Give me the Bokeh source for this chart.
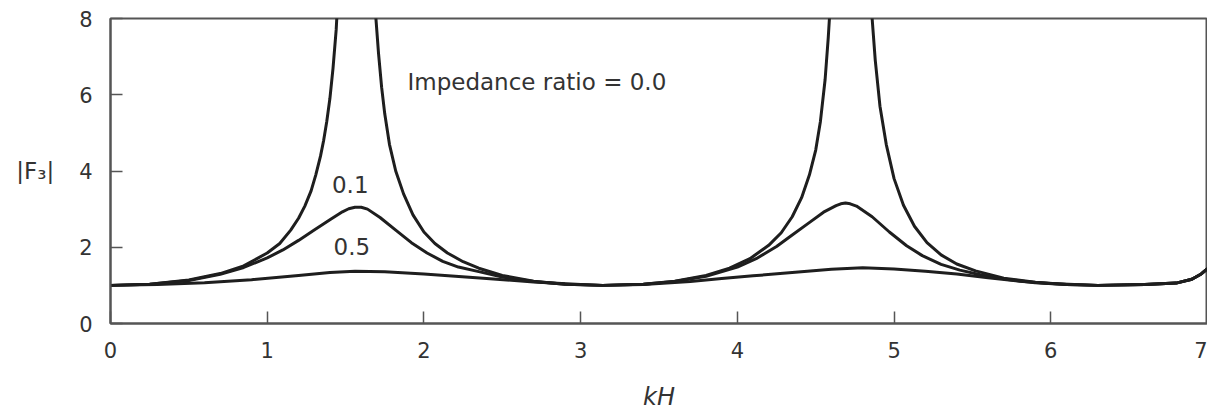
from bokeh.plotting import figure
from bokeh.models import Range1d, FixedTicker, Label
from bokeh.embed import file_html
from bokeh.resources import INLINE

# ---- data ----
x_ticks = [0, 1, 2, 3, 4, 5, 6, 7]
y_ticks = [0, 2, 4, 6, 8]

# impedance ratio = 0.0
kh_00 = [0.00, 0.25, 0.50, 0.70, 0.85, 1.00, 1.08, 1.15, 1.20, 1.24, 1.28, 1.31, 1.34,
         1.36, 1.38, 1.40, 1.42, 1.44, 1.47, 1.50, 1.64, 1.67, 1.69, 1.71, 1.73, 1.75,
         1.78, 1.82, 1.87, 1.93, 2.00, 2.07, 2.15, 2.25, 2.35, 2.50, 2.70, 2.90, 3.14,
         3.40, 3.60, 3.80, 3.95, 4.08, 4.20, 4.28, 4.35, 4.41, 4.46, 4.50, 4.53, 4.56,
         4.58, 4.61, 4.64, 4.80, 4.84, 4.86, 4.88, 4.91, 4.95, 5.00, 5.06, 5.13, 5.21,
         5.30, 5.40, 5.52, 5.70, 5.90, 6.10, 6.30, 6.60, 6.80, 6.90, 6.96, 7.00]
f_00 = [1.00, 1.03, 1.14, 1.31, 1.51, 1.85, 2.10, 2.45, 2.76, 3.08, 3.48, 3.90, 4.39,
        4.80, 5.30, 5.90, 6.70, 7.70, 10.0, 14.0, 14.0, 10.0, 8.20, 7.10, 6.20, 5.50,
        4.70, 4.00, 3.40, 2.85, 2.40, 2.10, 1.85, 1.62, 1.45, 1.26, 1.11, 1.03, 1.00,
        1.03, 1.11, 1.26, 1.45, 1.70, 2.05, 2.38, 2.80, 3.30, 3.90, 4.55, 5.30, 6.40,
        7.50, 9.50, 14.0, 14.0, 9.50, 8.00, 6.90, 5.70, 4.70, 3.80, 3.10, 2.55, 2.12,
        1.80, 1.56, 1.38, 1.19, 1.08, 1.02, 1.00, 1.02, 1.06, 1.16, 1.30, 1.44]

# impedance ratio = 0.1
kh_01 = [0.00, 0.25, 0.50, 0.70, 0.85, 1.00, 1.10, 1.20, 1.30, 1.40, 1.48, 1.52, 1.56,
         1.60, 1.64, 1.72, 1.82, 1.92, 2.02, 2.12, 2.22, 2.35, 2.50, 2.70, 2.90, 3.14,
         3.40, 3.60, 3.80, 4.00, 4.12, 4.25, 4.35, 4.45, 4.55, 4.63, 4.66, 4.69, 4.72,
         4.76, 4.86, 4.97, 5.08, 5.18, 5.30, 5.42, 5.55, 5.70, 5.90, 6.10, 6.30, 6.60,
         6.80, 6.90, 6.96, 7.00]
f_01 = [1.00, 1.03, 1.13, 1.29, 1.47, 1.72, 1.93, 2.18, 2.45, 2.72, 2.93, 3.01, 3.05,
        3.05, 3.00, 2.78, 2.45, 2.12, 1.85, 1.63, 1.48, 1.36, 1.22, 1.10, 1.03, 1.00,
        1.03, 1.10, 1.24, 1.48, 1.70, 2.02, 2.32, 2.62, 2.92, 3.09, 3.14, 3.16, 3.14,
        3.08, 2.80, 2.40, 2.04, 1.78, 1.55, 1.40, 1.28, 1.17, 1.07, 1.02, 1.00, 1.02,
        1.06, 1.16, 1.30, 1.44]

# impedance ratio = 0.5
kh_05 = [0.00, 0.30, 0.60, 0.90, 1.20, 1.40, 1.56, 1.75, 2.00, 2.20, 2.40, 2.70, 3.00,
         3.14, 3.40, 3.70, 3.90, 4.10, 4.35, 4.60, 4.80, 5.00, 5.20, 5.40, 5.60, 5.80,
         6.00, 6.30, 6.60, 6.80, 6.90, 6.96, 7.00]
f_05 = [1.00, 1.02, 1.07, 1.15, 1.26, 1.34, 1.37, 1.36, 1.30, 1.24, 1.18, 1.09, 1.02,
        1.00, 1.02, 1.10, 1.18, 1.25, 1.34, 1.42, 1.46, 1.43, 1.37, 1.30, 1.20, 1.11,
        1.05, 1.00, 1.02, 1.06, 1.16, 1.30, 1.44]

curve_labels = ["Impedance ratio = 0.0", "0.1", "0.5"]

FONT = "DejaVu Sans"
INK = "#1e1e1e"
TEXT = "#333333"
FRAME = "#555555"

p = figure(frame_width=1097, frame_height=305,
           min_border_left=110, min_border_right=0, min_border_top=18, min_border_bottom=85,
           x_range=Range1d(0, 7), y_range=Range1d(0, 8),
           output_backend="svg", toolbar_location=None, tools="")
p.background_fill_color = "white"
p.border_fill_color = "white"
p.outline_line_color = FRAME
p.outline_line_width = 2
p.xgrid.visible = False
p.ygrid.visible = False

for ax in (p.xaxis[0], p.yaxis[0]):
    ax.axis_line_color = FRAME
    ax.axis_line_width = 2
    ax.major_tick_in = 12
    ax.major_tick_out = 0
    ax.major_tick_line_color = FRAME
    ax.major_tick_line_width = 1.5
    ax.minor_tick_line_color = None
    ax.major_label_text_font = FONT
    ax.major_label_text_font_size = "21px"
    ax.major_label_text_color = TEXT

p.xaxis.ticker = FixedTicker(ticks=x_ticks)
p.yaxis.ticker = FixedTicker(ticks=y_ticks)
p.xaxis.major_label_standoff = 18
p.yaxis.major_label_standoff = 18

p.xaxis.axis_label = "kH"
p.xaxis.axis_label_text_font = FONT
p.xaxis.axis_label_text_font_style = "italic"
p.xaxis.axis_label_text_font_size = "24px"
p.xaxis.axis_label_text_color = TEXT
p.xaxis.axis_label_standoff = 22

p.yaxis.axis_label = "|F\u2083|"
p.yaxis.axis_label_orientation = "horizontal"
p.yaxis.axis_label_text_font = FONT
p.yaxis.axis_label_text_font_style = "normal"
p.yaxis.axis_label_text_font_size = "23px"
p.yaxis.axis_label_text_color = TEXT
p.yaxis.axis_label_standoff = 22

for kh, f in ((kh_00, f_00), (kh_01, f_01), (kh_05, f_05)):
    p.line(kh, f, line_color=INK, line_width=3, line_join="round")

# curve labels
p.add_layout(Label(x=1.895, y=6.33, text=curve_labels[0], text_font=FONT,
                   text_font_size="23px", text_color=TEXT, text_baseline="middle"))
p.add_layout(Label(x=1.53, y=3.65, text=curve_labels[1], text_font=FONT,
                   text_font_size="23px", text_color=TEXT, text_baseline="middle",
                   text_align="center"))
p.add_layout(Label(x=1.54, y=2.02, text=curve_labels[2], text_font=FONT,
                   text_font_size="23px", text_color=TEXT, text_baseline="middle",
                   text_align="center"))

open("out.html", "w").write(file_html(p, INLINE))
